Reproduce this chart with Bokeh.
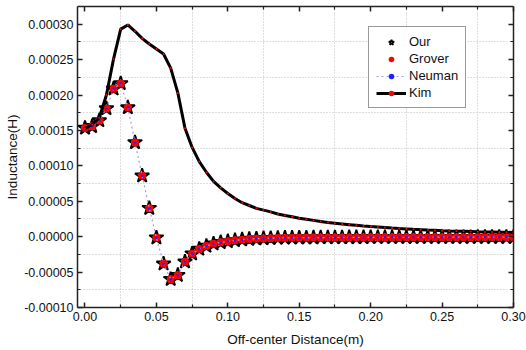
from bokeh.plotting import figure
from bokeh.models import (LinearAxis, FixedTicker, PrintfTickFormatter, CustomJSTickFormatter,
                          Range1d, Legend, LegendItem)
from bokeh.embed import file_html
from bokeh.resources import INLINE

# ---------------- data ----------------
distance = [0.000, 0.005, 0.010, 0.015, 0.020, 0.025, 0.030, 0.035, 0.040, 0.045,
            0.050, 0.055, 0.060, 0.065, 0.070, 0.075, 0.080, 0.085, 0.090, 0.095,
            0.100, 0.105, 0.110, 0.115, 0.120, 0.125, 0.130, 0.135, 0.140, 0.145,
            0.150, 0.155, 0.160, 0.165, 0.170, 0.175, 0.180, 0.185, 0.190, 0.195,
            0.200, 0.205, 0.210, 0.215, 0.220, 0.225, 0.230, 0.235, 0.240, 0.245,
            0.250, 0.255, 0.260, 0.265, 0.270, 0.275, 0.280, 0.285, 0.290, 0.295,
            0.300]

our_vals = [1.535e-4, 1.558e-4, 1.640e-4, 1.810e-4, 2.088e-4, 2.163e-4, 1.823e-4, 1.331e-4, 0.860e-4, 0.402e-4,
            -0.014e-4, -0.382e-4, -0.600e-4, -0.543e-4, -0.354e-4, -0.240e-4, -0.174e-4, -0.132e-4, -0.099e-4, -0.080e-4,
            -0.066e-4, -0.052e-4, -0.042e-4, -0.034e-4, -0.028e-4, -0.024e-4, -0.021e-4, -0.019e-4, -0.017e-4, -0.016e-4,
            -0.015e-4, -0.014e-4, -0.013e-4, -0.012e-4, -0.012e-4, -0.011e-4, -0.011e-4, -0.010e-4, -0.010e-4, -0.010e-4,
            -0.009e-4, -0.009e-4, -0.009e-4, -0.009e-4, -0.008e-4, -0.008e-4, -0.008e-4, -0.008e-4, -0.008e-4, -0.007e-4,
            -0.007e-4, -0.007e-4, -0.007e-4, -0.007e-4, -0.007e-4, -0.006e-4, -0.006e-4, -0.006e-4, -0.006e-4, -0.006e-4,
            -0.006e-4]

grover_vals = list(our_vals)
neuman_vals = list(our_vals)

kim_vals = [1.53e-4, 1.58e-4, 1.68e-4, 2.00e-4, 2.51e-4, 2.93e-4, 2.99e-4, 2.90e-4, 2.80e-4, 2.72e-4,
            2.65e-4, 2.58e-4, 2.38e-4, 2.03e-4, 1.53e-4, 1.26e-4, 1.06e-4, 0.91e-4, 0.78e-4, 0.69e-4,
            0.61e-4, 0.54e-4, 0.48e-4, 0.44e-4, 0.40e-4, 0.375e-4, 0.35e-4, 0.32e-4, 0.30e-4, 0.28e-4,
            0.26e-4, 0.245e-4, 0.23e-4, 0.215e-4, 0.20e-4, 0.19e-4, 0.18e-4, 0.17e-4, 0.16e-4, 0.15e-4,
            0.142e-4, 0.135e-4, 0.128e-4, 0.121e-4, 0.115e-4, 0.110e-4, 0.104e-4, 0.099e-4, 0.094e-4, 0.090e-4,
            0.085e-4, 0.081e-4, 0.078e-4, 0.075e-4, 0.072e-4, 0.069e-4, 0.067e-4, 0.065e-4, 0.063e-4, 0.061e-4,
            0.060e-4]

x_ticks = [0.0, 0.05, 0.10, 0.15, 0.20, 0.25, 0.30]
x_minor = [0.025, 0.075, 0.125, 0.175, 0.225, 0.275]
y_ticks = [-0.0001, -0.00005, 0.0, 0.00005, 0.0001, 0.00015, 0.0002, 0.00025, 0.0003]
y_minor = [-0.000075, -0.000025, 0.000025, 0.000075, 0.000125, 0.000175, 0.000225, 0.000275]

FONT = "Liberation Sans"

p = figure(width=526, height=350, output_backend="svg", toolbar_location=None,
           x_range=Range1d(-0.00525, 0.30), y_range=Range1d(-0.0001, 0.000325),
           min_border_left=77, min_border_right=13, min_border_top=6, min_border_bottom=43,
           x_axis_label="Off-center Distance(m)", y_axis_label="Inductance(H)")
p.outline_line_color = None
p.background_fill_color = "white"
p.border_fill_color = "white"


def style_axis(ax, ticks, minor):
    ax.ticker = FixedTicker(ticks=ticks, minor_ticks=minor)
    ax.axis_line_color = "#222222"
    ax.axis_line_width = 1.5
    ax.major_tick_in = 5
    ax.major_tick_out = 0
    ax.minor_tick_in = 3
    ax.minor_tick_out = 0
    ax.major_tick_line_color = "#222222"
    ax.major_tick_line_width = 1.5
    ax.minor_tick_line_color = "#222222"
    ax.minor_tick_line_width = 1.2
    ax.major_label_text_font = FONT
    ax.major_label_text_font_size = "12.5px"
    ax.major_label_text_color = "#111111"
    ax.axis_label_text_font = FONT
    ax.axis_label_text_font_size = "13.5px"
    ax.axis_label_text_font_style = "normal"
    ax.axis_label_text_color = "#111111"


xa = p.xaxis[0]
ya = p.yaxis[0]
style_axis(xa, x_ticks, x_minor)
style_axis(ya, y_ticks, y_minor)
xa.formatter = PrintfTickFormatter(format="%.2f")
ya.formatter = PrintfTickFormatter(format="%.5f")
xa.major_label_standoff = 4
xa.axis_label_standoff = 8
ya.major_label_standoff = 4
ya.axis_label_standoff = 1

top = LinearAxis()
style_axis(top, x_ticks, x_minor)
top.formatter = CustomJSTickFormatter(code="return ''")
top.major_label_standoff = 0
p.add_layout(top, "above")

right = LinearAxis()
style_axis(right, y_ticks, y_minor)
right.formatter = CustomJSTickFormatter(code="return ''")
right.major_label_standoff = 0
p.add_layout(right, "right")

for g, ticks in ((p.xgrid[0], x_minor), (p.ygrid[0], y_minor)):
    g.ticker = FixedTicker(ticks=ticks)
    g.grid_line_color = "#bdbdbd"
    g.grid_line_dash = "1 2"
    g.grid_line_width = 1

r_our = p.scatter(distance, our_vals, marker="star", size=15, fill_color="white",
                  line_color="black", line_width=1.8)
r_grover = p.scatter(distance, grover_vals, marker="circle", size=8, fill_color="#ff0000",
                     line_color=None)
r_neu_line = p.line(distance, neuman_vals, line_color="#9c9cf2", line_width=1.2, line_dash="2 3")
r_neu_dot = p.scatter(distance, neuman_vals, marker="circle", size=2.5, fill_color="#2020ff",
                      line_color=None)
r_kim_line = p.line(distance, kim_vals, line_color="black", line_width=3)
r_kim_dot = p.scatter(distance, kim_vals, marker="circle", size=2, fill_color="#ff0000",
                      line_color=None)

legend = Legend(items=[
    LegendItem(label="Our", renderers=[r_our]),
    LegendItem(label="Grover", renderers=[r_grover]),
    LegendItem(label="Neuman", renderers=[r_neu_line, r_neu_dot]),
    LegendItem(label="Kim", renderers=[r_kim_line, r_kim_dot]),
], location=(291, 199))
legend.border_line_color = "#333333"
legend.border_line_width = 1
legend.background_fill_color = "white"
legend.background_fill_alpha = 1
legend.padding = 7
legend.margin = 0
legend.spacing = 2
legend.glyph_width = 30
legend.glyph_height = 14
legend.label_height = 14
legend.label_standoff = 3
legend.label_text_font = FONT
legend.label_text_font_size = "13px"
legend.label_text_color = "#111111"
p.add_layout(legend)

open("out.html", "w").write(file_html(p, INLINE))
